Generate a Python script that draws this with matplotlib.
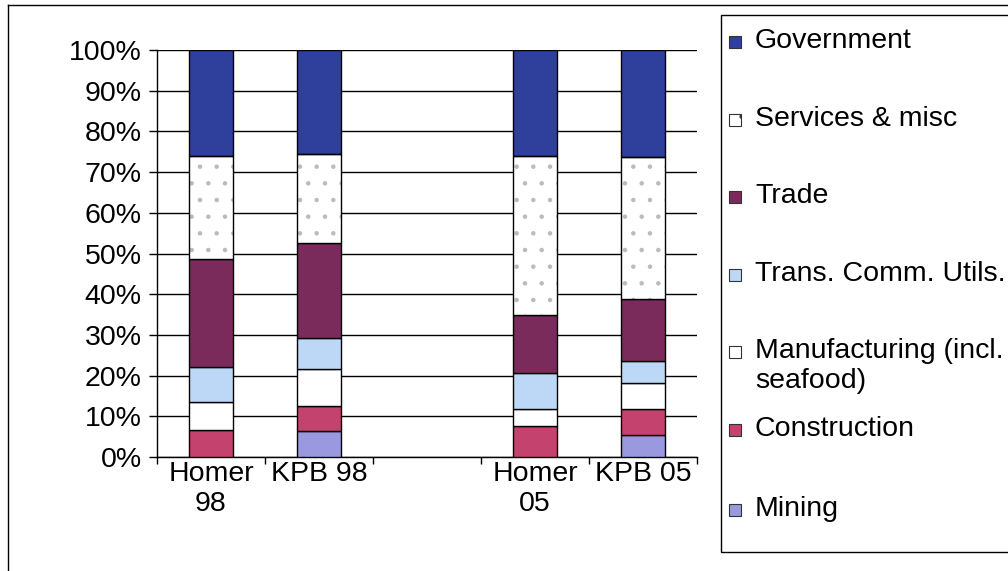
import numpy as np
import matplotlib.pyplot as plt
from matplotlib.patches import Rectangle
from matplotlib.lines import Line2D

plt.rcParams['font.family'] = ['Liberation Sans', 'DejaVu Sans']
plt.rcParams['hatch.linewidth'] = 0.8

# categories (the empty slot is a gap between the two years)
categories = ['Homer\n98', 'KPB 98', '', 'Homer\n05', 'KPB 05']

# shares in percent, bottom to top of each stack
mining = [0.0, 6.5, 0, 0.0, 5.4]
construction = [6.7, 6.1, 0, 7.7, 6.3]
manufacturing = [6.7, 8.9, 0, 4.2, 6.6]
trans_comm = [8.7, 7.7, 0, 8.7, 5.2]
trade = [26.5, 23.5, 0, 14.3, 15.4]
services = [25.3, 21.8, 0, 39.0, 34.8]
government = [26.1, 25.5, 0, 26.1, 26.3]

series = [
    ('Mining', mining, '#9a98de'),
    ('Construction', construction, '#c4436e'),
    ('Manufacturing (incl.\nseafood)', manufacturing, '#ffffff'),
    ('Trans. Comm. Utils.', trans_comm, '#bcd8f6'),
    ('Trade', trade, '#7a2b5c'),
    ('Services & misc', services, '#ffffff'),
    ('Government', government, '#2f3f9c'),
]

FS = 20.5

fig = plt.figure(figsize=(10.08, 5.71), dpi=100)
ax = fig.add_axes([157 / 1008, 1 - 457 / 571, 540 / 1008, 407 / 571])

x = np.arange(len(categories))
has_bar = np.array([sum(s[1][i] for s in series) > 0 for i in range(len(categories))])
xb = x[has_bar]
width = 0.41
bottom = np.zeros(len(categories))
for name, vals, color in series:
    v = np.array(vals, dtype=float)
    if name.startswith('Services'):
        # dotted fill with grey dots, then black outline on top
        ax.bar(xb, v[has_bar], width, bottom=bottom[has_bar], color=color,
               edgecolor='#bbbbbb', linewidth=0, hatch='.', zorder=3)
        ax.bar(xb, v[has_bar], width, bottom=bottom[has_bar], fill=False,
               edgecolor='black', linewidth=1.0, zorder=4)
    else:
        ax.bar(xb, v[has_bar], width, bottom=bottom[has_bar], color=color,
               edgecolor='black', linewidth=1.0, zorder=3)
    bottom += v

ax.set_xlim(-0.5, len(categories) - 0.5)
ax.set_ylim(0, 100)
ax.set_yticks(np.arange(0, 101, 10))
ax.set_yticklabels([f'{t}%' for t in range(0, 101, 10)], fontsize=FS)
ax.yaxis.grid(True, color='black', linewidth=1.0, zorder=0)
ax.set_xticks(x)
ax.set_xticklabels(categories, fontsize=FS, linespacing=1.2)
ax.set_xticks(np.arange(-0.5, len(categories), 1), minor=True)
ax.tick_params(axis='x', which='major', length=0, pad=3)
ax.tick_params(axis='x', which='minor', length=5, width=1, direction='out')
ax.tick_params(axis='y', length=6, width=1, direction='out', pad=5)
for side in ['top', 'right']:
    ax.spines[side].set_visible(False)
ax.spines['left'].set_linewidth(1.0)
ax.spines['bottom'].set_linewidth(1.0)
ax.set_axisbelow(True)

# legend box drawn in figure pixels
W, H = 1008, 571
fig.patches.append(Rectangle((721 / W, 1 - 552 / H), 300 / W, 537 / H,
                             transform=fig.transFigure, fill=False,
                             edgecolor='black', linewidth=1.0))
legend_y = [42, 120, 197, 275, 352, 430, 510]
for (name, vals, color), yy in zip(series[::-1], legend_y):
    fig.patches.append(Rectangle((729 / W, 1 - (yy + 6) / H), 12 / W, 12 / H,
                                 transform=fig.transFigure, facecolor=color,
                                 edgecolor='#333333', linewidth=0.8,
                                 hatch='.' if name.startswith('Services') else None))
    fig.text(755 / W, 1 - (yy - 14) / H, name, fontsize=FS, va='top', ha='left',
             linespacing=1.2)

# outer chart frame
fig.add_artist(Line2D([8 / W, 8 / W], [0, 1 - 5 / H], color='black', linewidth=1.0))
fig.add_artist(Line2D([8 / W, 1], [1 - 5 / H, 1 - 5 / H], color='black', linewidth=1.0))

fig.savefig('out.png', dpi=100)
